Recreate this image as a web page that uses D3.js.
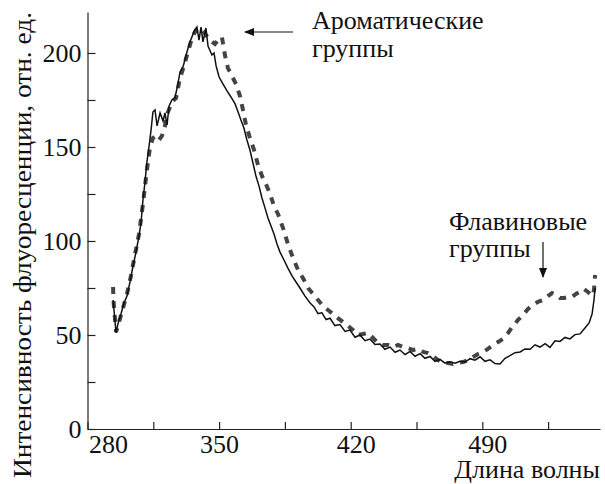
<!DOCTYPE html>
<html>
<head>
<meta charset="utf-8">
<script src="https://cdn.jsdelivr.net/npm/d3@7"></script>
<style>
  body { margin: 0; background: #fff; }
</style>
</head>
<body>
<div id="chart"></div>
<script>
// wavelength (nm) / intensity pairs
let solidX = [293.6, 295.2, 296.2, 297.8, 299.4, 301.0, 302.6, 304.2, 305.8, 307.4, 308.5, 309.5, 310.6, 311.6, 312.7, 313.8, 314.8, 315.9, 317.0, 318.6,
  320.2, 321.2, 322.3, 323.4, 324.9, 326.5, 328.1, 329.2, 330.8, 332.9, 334.5, 336.6, 338.2, 339.3, 340.4, 341.4, 343.0, 344.1, 346.2, 347.3,
  348.4, 350.0, 352.1, 354.2, 356.3, 358.5, 360.1, 361.6, 363.2, 364.8, 366.4, 368.0, 369.6, 371.2, 372.8, 374.4, 376.0, 377.6, 379.2, 380.8,
  382.4, 384.5, 386.6, 388.8, 390.9, 393.0, 395.7, 398.4, 400.5, 402.6, 404.7, 406.9, 409.0, 411.6, 414.3, 417.0, 419.6, 422.3, 424.9, 427.6,
  430.3, 432.9, 435.6, 438.2, 440.9, 443.6, 446.2, 448.9, 451.5, 454.2, 456.9, 459.5, 462.2, 464.8, 467.5, 470.2, 472.8, 475.5, 478.1, 480.8,
  483.5, 486.1, 488.8, 491.4, 494.1, 496.8, 499.4, 502.1, 504.7, 507.4, 510.1, 512.7, 515.4, 518.0, 520.7, 523.4, 526.0, 528.7, 531.3, 534.0,
  536.6, 539.3, 542.0, 544.6, 546.8, 548.4, 549.4, 550.0];
let solidY = [68.6, 51.1, 55.9, 61.2, 67.0, 70.7, 78.2, 86.7, 94.1, 102.7, 110.1, 121.8, 131.4, 142.0, 150.0, 159.0, 168.6, 169.7, 161.2, 168.1,
  163.8, 168.1, 161.7, 171.8, 175.0, 176.1, 183.5, 189.9, 192.6, 200.5, 205.9, 211.2, 213.8, 206.9, 213.8, 205.9, 213.3, 203.7, 198.9, 200.0,
  193.1, 187.2, 183.5, 179.8, 176.6, 172.9, 168.6, 164.4, 160.1, 153.7, 148.4, 141.5, 134.6, 129.3, 122.9, 117.6, 112.2, 108.0, 103.7, 98.4,
  94.1, 89.9, 85.6, 81.4, 78.2, 75.0, 70.7, 67.0, 64.9, 61.4, 61.8, 58.2, 58.9, 55.0, 55.6, 51.9, 52.6, 48.8, 50.0, 47.0,
  47.8, 44.9, 45.2, 42.4, 43.6, 40.8, 42.0, 39.6, 41.2, 38.7, 40.1, 37.6, 38.6, 36.0, 37.0, 35.0, 35.8, 35.0, 36.0, 35.6,
  37.4, 36.6, 38.4, 36.0, 36.8, 34.8, 34.6, 37.6, 39.0, 40.6, 41.0, 42.6, 42.4, 44.8, 43.6, 45.4, 43.4, 46.9, 46.6, 48.7,
  47.9, 50.2, 50.6, 53.7, 56.4, 61.2, 68.6, 75.0];

let dashX = [293.6, 293.8, 295.2, 296.8, 298.9, 301.0, 303.1, 305.3, 307.4, 309.5, 311.6, 313.2, 314.8, 316.4, 318.0, 319.6, 321.2, 322.8, 324.9, 327.1,
  329.2, 331.3, 333.4, 335.6, 337.7, 339.8, 341.9, 344.1, 346.2, 347.8, 349.4, 351.5, 353.1, 354.7, 356.8, 359.0, 361.1, 362.7, 364.3, 366.4,
  368.6, 370.7, 372.8, 374.9, 377.1, 379.2, 381.3, 384.0, 386.6, 389.3, 392.0, 394.6, 397.3, 400.0, 402.6, 405.3, 407.9, 410.6, 413.2, 415.9,
  418.6, 421.2, 423.9, 426.5, 429.2, 431.9, 434.5, 437.2, 439.8, 442.5, 445.2, 447.8, 450.5, 453.1, 455.8, 458.5, 461.1, 463.8, 466.4, 469.1,
  471.8, 474.4, 477.1, 479.7, 482.4, 485.1, 487.7, 490.4, 493.0, 495.7, 498.4, 501.0, 503.7, 506.3, 509.0, 511.6, 514.3, 517.0, 519.6, 522.3,
  524.9, 527.1, 529.2, 531.3, 533.4, 535.6, 537.7, 539.8, 541.9, 544.0, 546.2, 548.3, 549.4, 550.0];
let dashY = [75.5, 68.6, 51.6, 56.9, 64.4, 71.8, 81.4, 93.1, 103.7, 119.7, 137.8, 149.5, 154.8, 155.9, 153.7, 155.9, 161.2, 168.6, 173.9, 176.1,
  186.7, 193.1, 200.5, 208.0, 212.2, 213.3, 211.2, 208.0, 205.9, 204.8, 206.9, 208.5, 198.9, 192.0, 187.8, 183.5, 177.1, 169.7, 161.7, 154.8,
  148.4, 140.4, 134.6, 130.3, 125.0, 118.6, 114.4, 106.9, 98.4, 91.0, 84.6, 80.3, 75.0, 71.8, 68.6, 65.4, 63.3, 61.2, 59.0, 56.9,
  54.8, 52.7, 50.0, 50.5, 51.1, 48.4, 45.7, 44.7, 44.7, 43.6, 44.7, 43.6, 43.1, 42.0, 42.6, 41.0, 40.4, 38.8, 36.7, 35.1,
  35.1, 34.6, 35.1, 35.6, 36.7, 38.3, 39.9, 41.0, 42.6, 44.7, 46.3, 47.9, 51.1, 54.8, 58.0, 60.6, 63.8, 66.0, 67.6, 68.6,
  70.7, 72.3, 71.3, 69.7, 69.7, 70.2, 70.2, 71.8, 72.9, 74.5, 72.9, 70.7, 73.9, 81.9];

let xTicks = [280, 315, 350, 385, 420, 455, 490, 525];
let xLabels = [280, 350, 420, 490];
let yTicks = [0, 25, 50, 75, 100, 125, 150, 175, 200];
let yLabels = [0, 50, 100, 150, 200];

let width = 605, height = 484;
let margin = { top: 12, right: 5, bottom: 55, left: 87.5 };
let font = '"Liberation Serif", "Times New Roman", serif';
let fontSize = "26px";

let svg = d3.select("#chart").append("svg")
  .attr("width", width)
  .attr("height", height);

let xScale = d3.scaleLinear()
  .domain([280, 552.6])
  .range([margin.left, width - margin.right]);
let yScale = d3.scaleLinear()
  .domain([0, 221.8])
  .range([height - margin.bottom, margin.top]);

// axes, ticks pointing inward
let xAxis = d3.axisBottom(xScale)
  .tickValues(xTicks)
  .tickSizeInner(-7)
  .tickSizeOuter(0)
  .tickPadding(6)
  .tickFormat(d => xLabels.includes(d) ? d : "");
let yAxis = d3.axisLeft(yScale)
  .tickValues(yTicks)
  .tickSizeInner(-8)
  .tickSizeOuter(0)
  .tickPadding(6)
  .tickFormat(d => yLabels.includes(d) ? d : "");

let gx = svg.append("g")
  .attr("transform", `translate(0,${yScale(0)})`)
  .call(xAxis);
let gy = svg.append("g")
  .attr("transform", `translate(${margin.left},0)`)
  .call(yAxis);

[gx, gy].forEach(g => {
  g.attr("font-family", null);
  g.selectAll("path, line").attr("stroke", "#222").attr("stroke-width", 1.2);
  g.selectAll("text")
    .style("font-family", font)
    .style("font-size", fontSize)
    .attr("fill", "#111");
});
// labels in the source sit a little to the right of their ticks
gx.selectAll(".tick text")
  .filter(d => d === 280)
  .attr("text-anchor", "start").attr("x", 1);
gx.selectAll(".tick text")
  .filter(d => d === 420 || d === 490)
  .attr("x", 5);

let line = d3.line()
  .x(d => xScale(d[0]))
  .y(d => yScale(d[1]));

svg.append("path")
  .datum(dashX.map((x, i) => [x, dashY[i]]))
  .attr("d", line)
  .attr("fill", "none")
  .attr("stroke", "#444")
  .attr("stroke-width", 4)
  .attr("stroke-dasharray", "7,7");

svg.append("path")
  .datum(solidX.map((x, i) => [x, solidY[i]]))
  .attr("d", line)
  .attr("fill", "none")
  .attr("stroke", "#111")
  .attr("stroke-width", 1.5);

function label(x, y, txt, anchor) {
  return svg.append("text")
    .attr("x", x).attr("y", y)
    .attr("text-anchor", anchor || "start")
    .style("font-family", font)
    .style("font-size", fontSize)
    .attr("fill", "#111")
    .text(txt);
}

// axis titles
label(0, 0, "Интенсивность флуоресценции, отн. ед.", "middle")
  .attr("transform", "translate(31,245) rotate(-90)")
  .attr("textLength", 466)
  .attr("lengthAdjust", "spacingAndGlyphs");
label(600, 478, "Длина волны", "end");

// annotations
svg.append("defs").append("marker")
  .attr("id", "head")
  .attr("viewBox", "0 0 10 10")
  .attr("refX", 9).attr("refY", 5)
  .attr("markerWidth", 10).attr("markerHeight", 10)
  .attr("markerUnits", "userSpaceOnUse")
  .attr("orient", "auto")
  .append("path").attr("d", "M0,1 L10,5 L0,9 Z").attr("fill", "#111");

svg.append("line")
  .attr("x1", 293).attr("y1", 32).attr("x2", 245).attr("y2", 32)
  .attr("stroke", "#111").attr("stroke-width", 1.2)
  .attr("marker-end", "url(#head)");
label(312, 29, "Ароматические");
label(312, 57, "группы");

svg.append("line")
  .attr("x1", 543).attr("y1", 242).attr("x2", 543).attr("y2", 277)
  .attr("stroke", "#111").attr("stroke-width", 1.2)
  .attr("marker-end", "url(#head)");
label(449, 230, "Флавиновые");
label(449, 257, "группы");
</script>
</body>
</html>
